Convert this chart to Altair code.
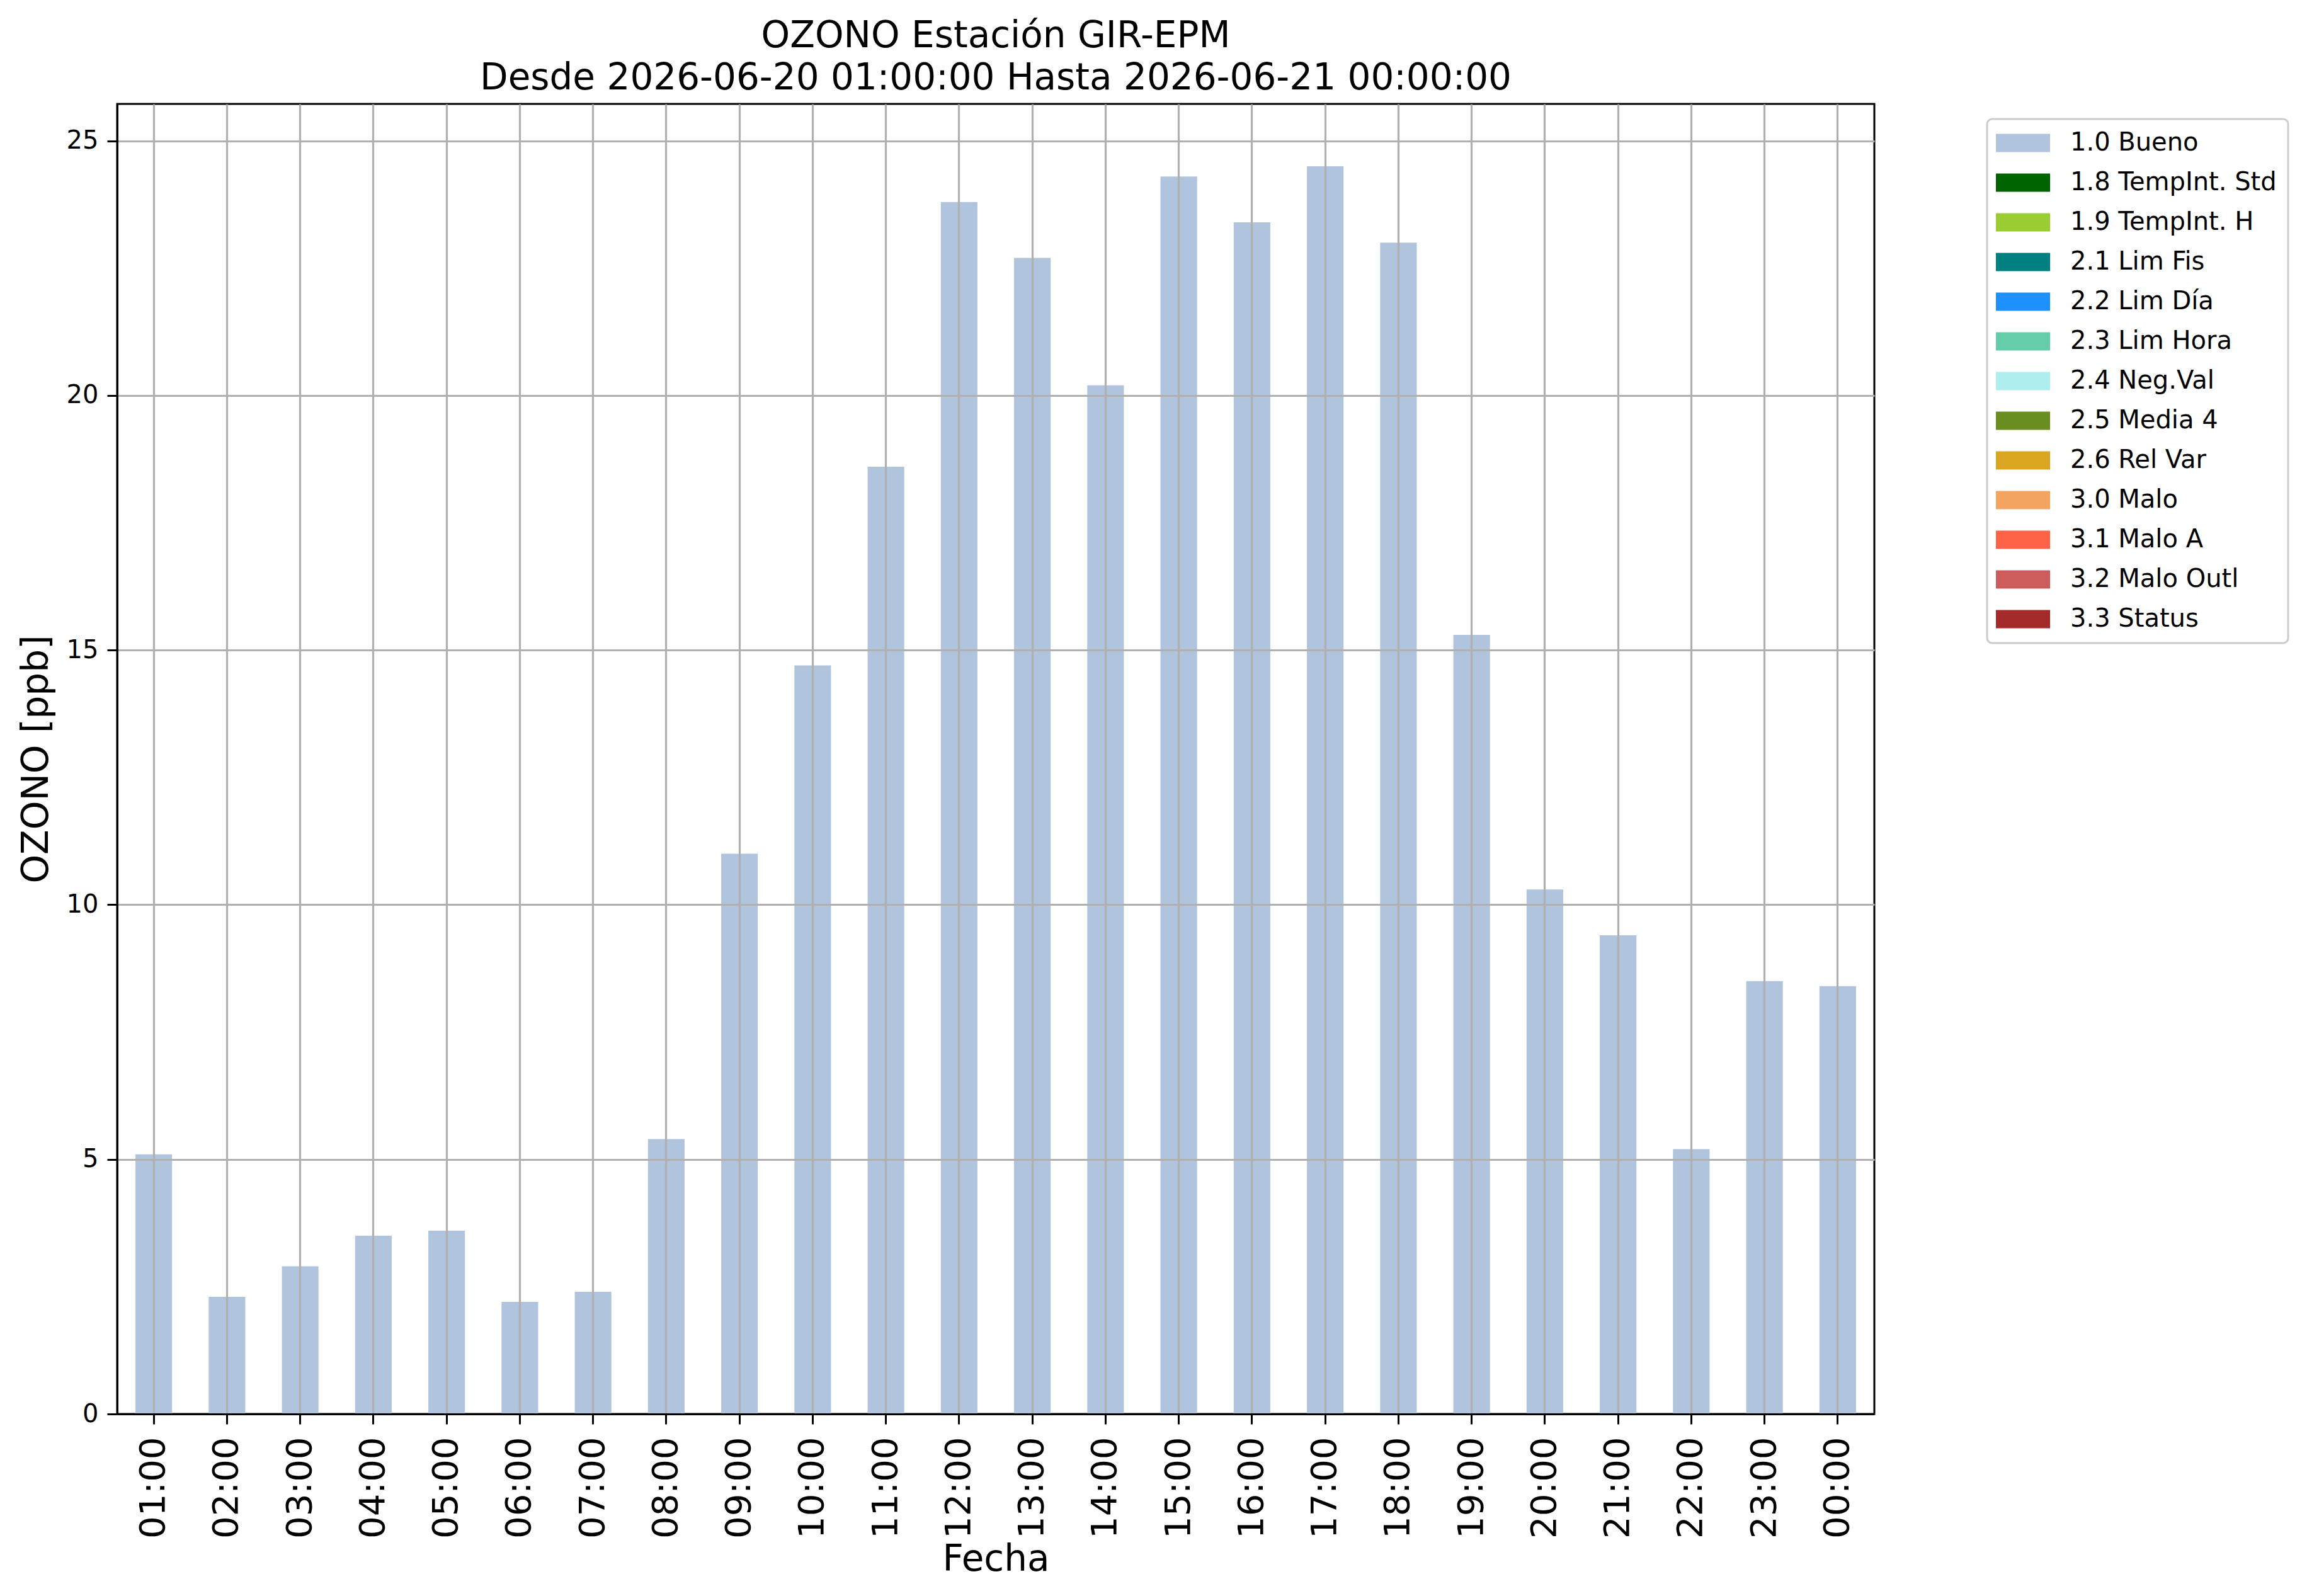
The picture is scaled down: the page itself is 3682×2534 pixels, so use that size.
import altair as alt
import pandas as pd

# ---- data ----
horas = ["01:00", "02:00", "03:00", "04:00", "05:00", "06:00", "07:00", "08:00",
         "09:00", "10:00", "11:00", "12:00", "13:00", "14:00", "15:00", "16:00",
         "17:00", "18:00", "19:00", "20:00", "21:00", "22:00", "23:00", "00:00"]
valores = [5.1, 2.3, 2.9, 3.5, 3.6, 2.2, 2.4, 5.4,
           11.0, 14.7, 18.6, 23.8, 22.7, 20.2, 24.3, 23.4,
           24.5, 23.0, 15.3, 10.3, 9.4, 5.2, 8.5, 8.4]
banderas = ["1.0 Bueno"] * 24

categorias = ["1.0 Bueno", "1.8 TempInt. Std", "1.9 TempInt. H", "2.1 Lim Fis",
              "2.2 Lim Día", "2.3 Lim Hora", "2.4 Neg.Val", "2.5 Media 4",
              "2.6 Rel Var", "3.0 Malo", "3.1 Malo A", "3.2 Malo Outl", "3.3 Status"]
colores = ["#B0C4DE", "#006400", "#9ACD32", "#008080", "#1E90FF", "#66CDAA",
           "#AFEEEE", "#6B8E23", "#DAA520", "#F4A460", "#FF6347", "#CD5C5C", "#A52A2A"]

titulo = ["OZONO Estación GIR-EPM",
          "Desde 2026-06-20 01:00:00 Hasta 2026-06-21 00:00:00"]
y_ticks = [0, 5, 10, 15, 20, 25]

df = pd.DataFrame({"Fecha": horas, "valor": valores, "flag": banderas})

W, H = 2790, 2080
FONT = "DejaVu Sans"

chart = alt.Chart(df).mark_bar(opacity=1).encode(
    x=alt.X("Fecha:N", sort=horas,
            scale=alt.Scale(paddingInner=0.5, paddingOuter=0.25),
            axis=alt.Axis(title="Fecha", labelAngle=270, labelFontSize=56,
                          labelPadding=20, bandPosition=0.5, grid=True,
                          titleFontSize=58, titleFontWeight="normal",
                          titleX=W / 2, titleY=248, titleAlign="center",
                          titleBaseline="alphabetic", zindex=1)),
    y=alt.Y("valor:Q",
            scale=alt.Scale(domain=[0, 25.725], nice=False, zero=True),
            axis=alt.Axis(title="OZONO [ppb]", values=y_ticks, labelFontSize=40,
                          labelPadding=14, grid=True, titleFontSize=58,
                          titleFontWeight="normal", titleAngle=270,
                          titleX=-111, titleY=H / 2, titleAlign="center",
                          titleBaseline="alphabetic", zindex=1)),
    color=alt.Color("flag:N",
                    scale=alt.Scale(domain=categorias, range=colores),
                    title=None,
                    legend=alt.Legend(orient="none", legendX=2969, legendY=24,
                                      symbolType="M-2.966,-1H2.966V1H-2.966Z",
                                      symbolSize=841, symbolStrokeWidth=0,
                                      symbolOpacity=1, symbolOffset=19,
                                      labelFontSize=40, labelFont=FONT,
                                      labelColor="black", labelOffset=55,
                                      labelLimit=0,
                                      labelExpr="datum.label + '\u00a0\u00a0\u00a0'",
                                      padding=18, rowPadding=23,
                                      strokeColor="#cccccc",
                                      cornerRadius=8, fillColor="white")),
).properties(
    width=W,
    height=H,
    title=alt.Title(text=titulo, fontSize=58, font=FONT, fontWeight="normal",
                    anchor="middle", frame="group", offset=-47, lineHeight=67,
                    baseline="bottom", color="black"),
    padding={"left": 178, "top": 157, "right": 690, "bottom": 280},
    autosize=alt.AutoSizeParams(type="none"),
).configure(
    font=FONT,
).configure_view(
    stroke="black", strokeWidth=3,
).configure_axis(
    domainColor="black", domainWidth=3,
    tickColor="black", tickWidth=3, tickSize=16,
    gridColor="#b0b0b0", gridWidth=3.2, gridOpacity=1,
    labelColor="black", titleColor="black",
    labelFont=FONT, titleFont=FONT,
).configure_legend(
    strokeWidth=3,
)

chart.save("out.html", embed_options={"renderer": "svg", "actions": False})
